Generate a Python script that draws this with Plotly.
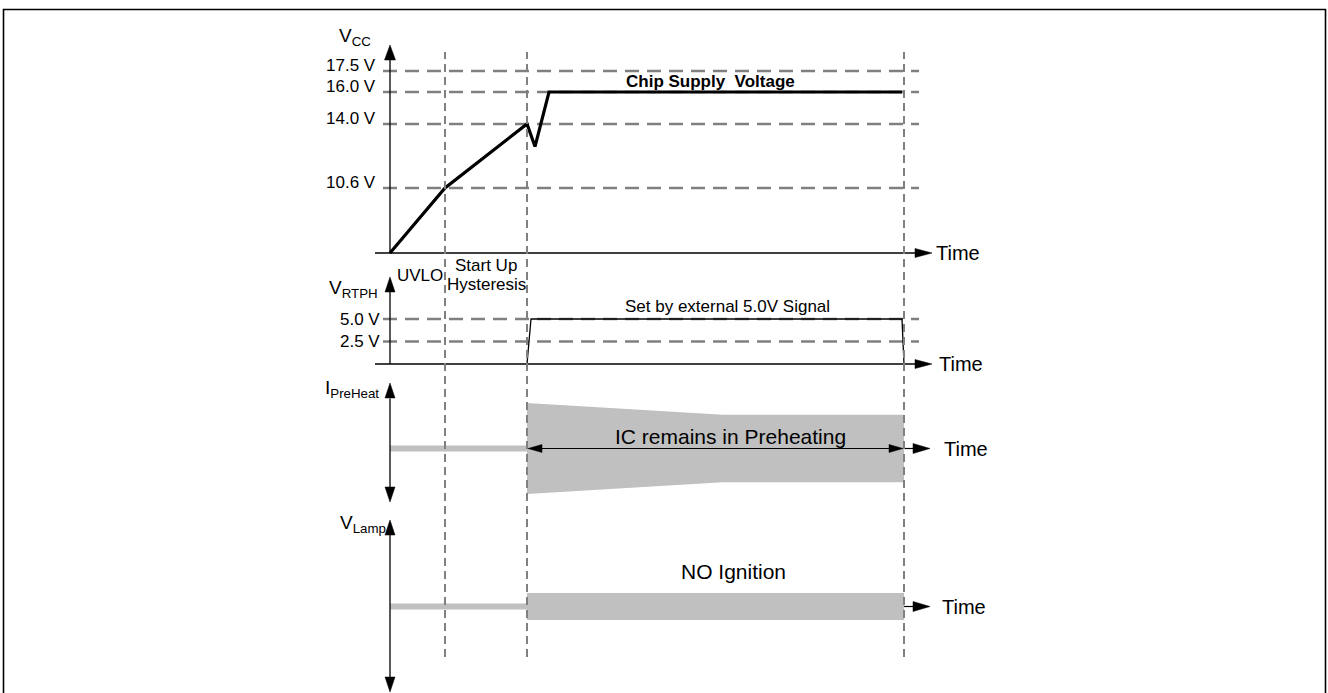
import plotly.graph_objects as go

W, H = 1328, 693
FONT = "Liberation Sans, Arial, sans-serif"
GRAY_FILL = "#c0c0c0"
DASH_COL = "#808080"

# ---------------- data (time in arbitrary units) ----------------
T_UVLO = 5.5
T_START = 13.7
T_END = 51.4
event_times = [T_UVLO, T_START, T_END]

# Vcc waveform
vcc_t = [0.0, 5.5, 13.7, 14.5, 15.9, 51.2]
vcc_v = [0.0, 10.6, 14.0, 12.8, 16.0, 16.0]
vcc_levels = [10.6, 14.0, 16.0, 17.5]
vcc_level_labels = ["10.6 V", "14.0 V", "16.0 V", "17.5 V"]
# schematic (non-linear) drawing scale of the Vcc panel: volts -> drawn height
vcc_scale_v = [0.0, 10.6, 14.0, 16.0, 17.5]
vcc_scale_h = [0.0, 6.5, 12.9, 16.1, 18.2]

# RTPH pin voltage
rtph_t = [13.7, 14.1, 51.2, 51.4]
rtph_v = [0.0, 5.0, 5.0, 0.0]
rtph_levels = [2.5, 5.0]
rtph_level_labels = ["2.5 V", "5.0 V"]

# Preheat current envelope (normalised amplitude)
pre_t_before = [0.0, 13.7]
ip_t = [13.7, 33.3, 51.4]
ip_amp = [1.0, 0.74, 0.74]

# Lamp voltage envelope (normalised amplitude)
lamp_t = [13.7, 51.4]
lamp_amp = [0.3, 0.3]


def vcc_h(v):
    # piecewise linear schematic scale
    for i in range(1, len(vcc_scale_v)):
        if v <= vcc_scale_v[i] or i == len(vcc_scale_v) - 1:
            v0, v1 = vcc_scale_v[i - 1], vcc_scale_v[i]
            h0, h1 = vcc_scale_h[i - 1], vcc_scale_h[i]
            return h0 + (v - v0) * (h1 - h0) / (v1 - v0)


fig = go.Figure()

# ---------------- traces ----------------
fig.add_trace(go.Scatter(x=vcc_t, y=[vcc_h(v) for v in vcc_v], mode="lines",
                         line=dict(color="black", width=3.2), yaxis="y", hoverinfo="skip"))
fig.add_trace(go.Scatter(x=rtph_t, y=rtph_v, mode="lines",
                         line=dict(color="black", width=1.3), yaxis="y2", hoverinfo="skip"))
fig.add_trace(go.Scatter(x=pre_t_before, y=[0, 0], mode="lines",
                         line=dict(color=GRAY_FILL, width=6), yaxis="y3", hoverinfo="skip"))
fig.add_trace(go.Scatter(x=ip_t + ip_t[::-1], y=ip_amp + [-a for a in ip_amp[::-1]],
                         mode="lines", fill="toself", fillcolor=GRAY_FILL,
                         line=dict(width=0, color=GRAY_FILL), yaxis="y3", hoverinfo="skip"))
fig.add_trace(go.Scatter(x=pre_t_before, y=[0, 0], mode="lines",
                         line=dict(color=GRAY_FILL, width=6), yaxis="y4", hoverinfo="skip"))
fig.add_trace(go.Scatter(x=lamp_t + lamp_t[::-1], y=lamp_amp + [-a for a in lamp_amp[::-1]],
                         mode="lines", fill="toself", fillcolor=GRAY_FILL,
                         line=dict(width=0, color=GRAY_FILL), yaxis="y4", hoverinfo="skip"))

shapes = []
annotations = []


def hline(y, x0, x1, yref, width=1.3, color="black", dash="solid", layer="above"):
    shapes.append(dict(type="line", xref="x", yref=yref, x0=x0, x1=x1, y0=y, y1=y,
                       line=dict(color=color, width=width, dash=dash), layer=layer))


def vline(x, y0, y1, yref, width=1.3, color="black", dash="solid", layer="above"):
    shapes.append(dict(type="line", xref="x", yref=yref, x0=x, x1=x, y0=y0, y1=y1,
                       line=dict(color=color, width=width, dash=dash), layer=layer))


def head(x, y, yref, direction, length=16, half=5):
    if direction == "right":
        path = f"M0,0 L{-length},{half} L{-length},{-half} Z"
    elif direction == "left":
        path = f"M0,0 L{length},{half} L{length},{-half} Z"
    elif direction == "up":
        path = f"M0,0 L{-half},{-length} L{half},{-length} Z"
    else:
        path = f"M0,0 L{-half},{length} L{half},{length} Z"
    shapes.append(dict(type="path", xref="x", yref=yref, xsizemode="pixel", ysizemode="pixel",
                       xanchor=x, yanchor=y, path=path, fillcolor="black",
                       line=dict(color="black", width=0.5), layer="above"))


def text(x, y, yref, s, size=17, xanchor="center", yanchor="middle", bold=False):
    annotations.append(dict(x=x, y=y, xref="x", yref=yref, text=(f"<b>{s}</b>" if bold else s),
                            showarrow=False, xanchor=xanchor, yanchor=yanchor,
                            font=dict(family=FONT, size=size, color="black")))


GRID_X0, GRID_X1 = -0.7, 52.9
HDASH = "14px,8px"
VDASH = "8px,5px"

# ---- Vcc panel ----
for v, lab in zip(vcc_levels, vcc_level_labels):
    hline(vcc_h(v), GRID_X0, GRID_X1, "y", width=2.3, color=DASH_COL, dash=HDASH, layer="below")
    text(-1.2, vcc_h(v) + 0.6, "y", lab, xanchor="right")
vline(0, 0, 19.3, "y")
head(0, 20.8, "y", "up", length=15, half=5.5)
hline(0, -1.5, 52.6, "y")
head(54.2, 0, "y", "right", length=17, half=4.5)
text(54.4, 0, "y", "Time", size=20, xanchor="left")
text(32.0, 17.2, "y", "Chip Supply  Voltage", size=17, bold=True)
text(-1.7, 21.6, "y", "V<sub>CC</sub>", size=19, xanchor="right")

# ---- RTPH panel ----
for v, lab in zip(rtph_levels, rtph_level_labels):
    hline(v, GRID_X0, GRID_X1, "y2", width=2.3, color=DASH_COL, dash=HDASH, layer="below")
    text(-0.8, v, "y2", lab, xanchor="right")
vline(0, 0, 8.2, "y2")
head(0, 9.67, "y2", "up", length=15, half=5)
hline(0, -1.5, 52.6, "y2")
head(54.2, 0, "y2", "right", length=17, half=4.5)
text(54.7, 0, "y2", "Time", size=20, xanchor="left")
text(33.7, 6.44, "y2", "Set by external 5.0V Signal", size=17)
text(-1.0, 8.3, "y2", "V<sub>RTPH</sub>", size=19, xanchor="right")
text(0.5, 9.78, "y2", "UVLO", size=17, xanchor="left")
text(9.6, 11.0, "y2", "Start Up", size=17)
text(9.6, 8.78, "y2", "Hysteresis", size=17)

# ---- Preheat panel ----
vline(0, -0.85, 1.1, "y3")
head(0, 1.44, "y3", "up", length=15, half=5)
head(0, -1.176, "y3", "down", length=15, half=5)
hline(0, T_START + 0.3, T_END - 0.3, "y3", width=1.2)
head(T_START + 0.1, 0, "y3", "left", length=14, half=4)
head(T_END - 0.1, 0, "y3", "right", length=14, half=4)
hline(0, T_END, 52.5, "y3", width=1.2)
head(54.0, 0, "y3", "right", length=17, half=5)
text(55.2, 0, "y3", "Time", size=20, xanchor="left")
text(34.0, 0.253, "y3", "IC remains in Preheating", size=21)
text(-0.9, 1.3, "y3", "I<sub>PreHeat</sub>", size=19, xanchor="right")

# ---- Lamp panel ----
vline(0, -1.6, 1.6, "y4")
head(0, 1.922, "y4", "up", length=15, half=5)
head(0, -1.9, "y4", "down", length=15, half=5)
hline(0, T_END, 52.5, "y4", width=1.2)
head(54.0, 0, "y4", "right", length=17, half=5)
text(55.0, 0, "y4", "Time", size=20, xanchor="left")
text(34.3, 0.789, "y4", "NO Ignition", size=21)
text(-0.2, 1.84, "y4", "V<sub>Lamp</sub>", size=19, xanchor="right")

# ---- vertical event lines ----
for t in event_times:
    shapes.append(dict(type="line", xref="x", yref="paper", x0=t, x1=t,
                       y0=1 - 657 / H, y1=1 - 52 / H,
                       line=dict(color=DASH_COL, width=2, dash=VDASH), layer="above"))

# ---- outer frame ----
shapes.append(dict(type="rect", xref="paper", yref="paper",
                   x0=3.5 / W, x1=1325.5 / W, y0=-0.05, y1=1 - 9.5 / H,
                   line=dict(color="black", width=1.6), layer="above"))

ax_common = dict(visible=False, showgrid=False, zeroline=False, domain=[0, 1])
fig.update_layout(
    width=W, height=H,
    margin=dict(l=0, r=0, t=0, b=0),
    paper_bgcolor="white", plot_bgcolor="white",
    showlegend=False,
    xaxis=dict(visible=False, showgrid=False, zeroline=False, range=[-39.0, 93.8], domain=[0, 1]),
    yaxis=dict(**ax_common, range=[-44.0, 25.3]),
    yaxis2=dict(**ax_common, range=[-36.556, 40.444], overlaying="y"),
    yaxis3=dict(**ax_common, range=[-5.3736, 9.857], overlaying="y"),
    yaxis4=dict(**ax_common, range=[-1.9222, 13.4778], overlaying="y"),
    shapes=shapes,
    annotations=annotations,
)

fig.write_html("out.html", config={"displayModeBar": False},
               post_script="document.body.style.margin='0px';document.body.style.overflow='hidden';")
